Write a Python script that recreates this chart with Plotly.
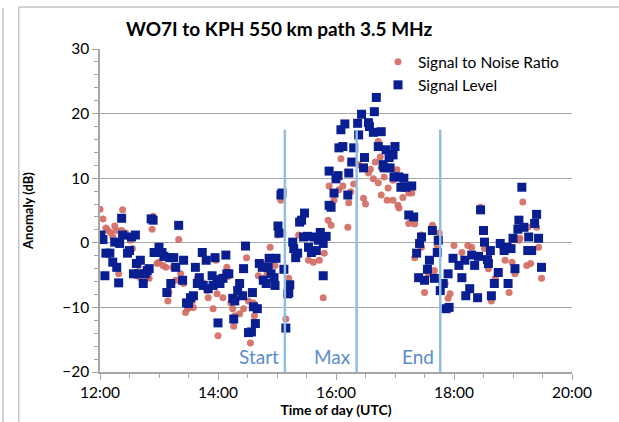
import pandas as pd
import plotly.graph_objects as go

DIA = "2014-01-01 "

# Signal to Noise Ratio (anomalia em dB)
snr_hora = [
    "12:00", "12:03", "12:06", "12:08", "12:11", "12:13", "12:15", "12:17", "12:19", "12:22",
    "12:23", "12:26", "12:29", "12:31", "12:33", "12:34", "12:37", "12:39", "12:41", "12:43",
    "12:48", "12:50", "12:53", "12:54", "12:56", "12:58", "13:00", "13:04", "13:07", "13:09",
    "13:10", "13:14", "13:17", "13:20", "13:22", "13:25", "13:27", "13:29", "13:31", "13:34",
    "13:35", "13:39", "13:41", "13:45", "13:49", "13:50", "13:55", "13:58", "13:59", "14:00",
    "14:05", "14:09", "14:10", "14:13", "14:15", "14:16", "14:17", "14:20", "14:22", "14:26",
    "14:29", "14:31", "14:33", "14:36", "14:37", "14:39", "14:41", "14:45", "14:47", "14:50",
    "14:53", "14:56", "14:58", "15:01", "15:04", "15:06", "15:09", "15:12", "15:22", "15:27",
    "15:32", "15:37", "15:43", "15:48", "15:47", "15:52", "15:55", "15:53", "15:58", "16:03",
    "16:05", "16:07", "16:12", "16:13", "16:15", "16:18", "16:23", "16:28", "16:30", "16:33",
    "16:35", "16:38", "16:40", "16:43", "16:45", "16:43", "16:46", "16:46", "16:49", "16:53",
    "16:58", "17:02", "16:52", "16:58", "17:03", "17:04", "17:08", "17:14", "17:17", "17:14",
    "17:20", "17:27", "17:27", "17:20", "17:38", "17:45", "17:43", "17:40", "17:34", "17:30",
    "17:54", "17:56", "17:51", "18:00", "18:08", "18:14", "18:18", "18:27", "18:31", "18:35",
    "18:38", "18:42", "18:49", "18:52", "18:56", "18:59", "19:02", "19:07", "19:10", "19:14",
    "19:18", "19:24", "19:26", "19:29", "19:15", "19:06",
]
snr_db = [
    5.2, 3.7, 2.3, 1.9, 1.6, 0.9, 2.6, 1.9, -4.8, 1.9,
    5.1, 1.5, 0.9, 0.4, -0.9, -4.8, -5.1, -3.5, -5.4, -6.3,
    -5.4, -5.5, 2.1, 4.1, -1.5, -3.2, -3.0, -3.5, -3.8, -9.0,
    -7.7, -3.8, -5.8, 0.5, -4.8, -6.3, -10.8, -10.2, -10.0, -9.0,
    -10.0, -5.4, -6.3, -6.2, -7.4, -8.5, -10.2, -2.7, -7.9, -14.4,
    -8.5, -3.8, -5.2, -9.3, -10.2, -12.9, -11.3, -8.5, -11.0, -10.2,
    -2.3, -9.0, -15.5, -9.3, -11.3, -12.5, -5.1, -3.2, -5.4, -4.6,
    -0.7, -2.3, -3.5, 1.2, 6.6, 1.5, -11.8, -5.5, 1.2, 0.9,
    -2.7, -3.0, -2.7, -1.6, -8.5, 3.5, 2.7, 8.8, 6.6, 8.2,
    13.0, 8.8, 2.4, 6.2, 7.9, 9.1, 12.1, 6.9, 6.0, 10.8,
    11.4, 9.9, 12.5, 15.7, 13.3, 9.3, 7.4, 11.6, 10.2, 8.5,
    9.7, 11.3, 6.6, 6.6, 5.8, 5.4, 7.0, 7.7, 7.7, 3.0,
    2.9, 1.2, -0.7, -2.3, 2.7, 1.5, -0.4, -4.3, -4.8, -7.7,
    -8.6, -7.9, -6.3, -0.4, -1.5, -0.4, -0.7, 5.5, -0.9, -4.0,
    -9.0, -5.5, -0.7, -2.7, -7.7, -3.0, -4.8, 0.7, 6.3, -3.5,
    -3.2, 2.4, -0.7, -5.5, 2.4, 0.4,
]

# Signal Level (anomalia em dB)
nivel_hora = [
    "12:01", "12:03", "12:05", "12:06", "12:10", "12:13", "12:15", "12:17", "12:19", "12:20",
    "12:22", "12:23", "12:28", "12:30", "12:32", "12:34", "12:36", "12:37", "12:39", "12:41",
    "12:44", "12:46", "12:48", "12:50", "12:52", "12:54", "12:55", "12:58", "13:00", "13:03",
    "13:05", "13:08", "13:11", "13:12", "13:15", "13:17", "13:20", "13:24", "13:25", "13:28",
    "13:30", "13:32", "13:35", "13:37", "13:39", "13:41", "13:44", "13:45", "13:48", "13:50",
    "13:54", "13:55", "13:57", "13:59", "14:00", "14:02", "14:05", "14:08", "14:09", "14:11",
    "14:15", "14:16", "14:17", "14:20", "14:22", "14:25", "14:26", "14:28", "14:31", "14:34",
    "14:35", "14:36", "14:38", "14:40", "14:42", "14:45", "14:46", "14:49", "14:51", "14:52",
    "14:54", "14:57", "14:58", "14:59", "15:01", "15:02", "15:04", "15:05", "15:07", "15:09",
    "15:11", "15:13", "15:12", "15:16", "15:17", "15:19", "15:21", "15:23", "15:25", "15:28",
    "15:27", "15:31", "15:32", "15:35", "15:38", "15:40", "15:42", "15:44", "15:47", "15:50",
    "15:47", "15:53", "15:55", "15:58", "16:00", "16:02", "15:53", "16:03", "16:07", "16:05",
    "16:09", "16:12", "16:13", "16:16", "16:18", "16:22", "16:23", "16:26", "16:29", "16:28",
    "16:33", "16:34", "16:38", "16:39", "16:41", "16:43", "16:46", "16:51", "16:54", "16:58",
    "17:00", "16:49", "16:48", "16:55", "16:59", "17:04", "17:09", "17:06", "17:11", "17:17",
    "17:14", "17:19", "17:25", "17:27", "17:22", "17:24", "17:33", "17:35", "17:38", "17:44",
    "17:43", "17:30", "17:40", "17:49", "17:46", "17:55", "17:52", "17:54", "17:59", "18:05",
    "18:08", "18:11", "18:12", "18:16", "18:18", "18:21", "18:24", "18:25", "18:27", "18:30",
    "18:31", "18:34", "18:35", "18:37", "18:38", "18:41", "18:45", "18:47", "18:51", "18:54",
    "18:55", "18:58", "19:00", "19:02", "19:05", "19:06", "19:09", "19:11", "19:15", "19:16",
    "19:19", "19:22", "19:24", "19:26", "19:29",
]
nivel_db = [
    1.2, 0.5, -5.1, -1.6, -1.6, -3.0, 0.1, -3.8, -6.2, -0.1,
    3.8, 1.2, -1.6, -1.2, 0.9, -4.8, 1.2, -3.2, -4.8, -2.7,
    -6.3, -4.8, -4.3, -4.0, 3.7, 3.5, -1.5, -1.5, -0.7, -1.5,
    -2.1, -7.7, -2.3, -6.3, -2.3, -3.8, 2.7, -5.8, -2.7, -9.3,
    -9.4, -8.5, -8.2, -3.8, -6.3, -5.4, -1.5, -6.6, -2.7, -7.1,
    -5.1, -6.6, -2.3, -5.7, -12.4, -6.3, -5.5, -1.9, -4.8, -4.8,
    -8.6, -11.8, -9.0, -7.4, -6.3, -8.2, -4.0, -0.5, -13.9, -13.8,
    -7.7, -9.9, -12.5, -10.2, -3.2, -3.8, -5.8, -6.3, -3.8, -2.4,
    -4.8, -5.4, -6.6, -2.4, 2.6, 1.5, 7.4, 7.7, -4.1, -13.2,
    -7.9, -6.5, -7.7, 0.1, -0.9, -2.3, -1.6, 3.2, 3.5, 4.6,
    0.9, 1.0, -0.7, -1.5, 0.9, -1.2, 0.4, 1.6, -0.1, 1.0,
    -5.1, 5.8, 5.5, 7.7, 9.9, 10.4, 11.1, 14.7, 14.9, 17.5,
    18.4, 7.4, 10.8, 12.5, 14.7, 18.5, 16.7, 19.9, 13.2, 11.6,
    18.6, 18.0, 17.1, 20.3, 22.5, 14.9, 17.2, 14.4, 13.2, 13.6,
    14.9, 11.6, 12.1, 11.6, 10.2, 10.2, 10.0, 8.6, 8.6, 8.8,
    4.3, 4.0, -0.1, 0.9, -1.6, -5.4, -4.1, -2.7, 1.9, 0.4,
    -1.5, -5.8, -5.5, -6.3, -7.4, -10.0, -10.2, -4.8, -2.4, -3.5,
    -5.4, -2.7, -8.2, -7.1, -1.9, -3.5, -8.5, -2.1, 5.1, 1.9,
    0.1, -2.6, -3.2, -1.2, -8.2, -6.3, -4.6, -0.1, -1.2, -0.7,
    -6.3, -0.9, 0.7, -4.0, 2.1, 3.5, 8.6, 2.4, -1.2, 0.9,
    -1.2, 3.0, 4.4, 0.7, -3.8,
]

# marcos do evento (linhas verticais)
evento_nome = ["Start", "Max", "End"]
evento_hora = ["15:08", "16:21", "17:46"]

AZUL_LINHA = "#93bfdc"
AZUL_TEXTO = "#5b8cc8"
CINZA = "#a6a6a6"
FONTE = "Lato, Carlito, Arial, sans-serif"


def para_data(horas):
    return pd.to_datetime([DIA + h for h in horas])


fig = go.Figure()

fig.add_trace(go.Scatter(
    x=para_data(snr_hora), y=snr_db, mode="markers",
    name="Signal to Noise Ratio",
    marker=dict(symbol="circle", size=7, color="rgba(210,105,95,0.9)", line_width=0),
))
fig.add_trace(go.Scatter(
    x=para_data(nivel_hora), y=nivel_db, mode="markers",
    name="Signal Level",
    marker=dict(symbol="square", size=9, color="rgb(8,30,145)", line_width=0),
))

# linhas verticais + rótulos
for nome, hora in zip(evento_nome, evento_hora):
    t = para_data([hora])[0]
    fig.add_shape(type="line", x0=t, x1=t, y0=-20, y1=17.5, xref="x", yref="y",
                  line=dict(color=AZUL_LINHA, width=2.5))
    fig.add_annotation(x=t, y=-17.6, text=nome, showarrow=False, xanchor="right",
                       xshift=-4, font=dict(size=19, color=AZUL_TEXTO, family=FONTE))

# moldura do gráfico (estilo Excel)
fig.add_shape(type="line", xref="paper", yref="paper", x0=-0.2055, x1=-0.2055, y0=-0.2, y1=1.127,
              line=dict(color=CINZA, width=1))
fig.add_shape(type="rect", xref="paper", yref="paper", x0=-0.172, x1=1.2, y0=-0.2, y1=1.13,
              line=dict(color=CINZA, width=1))

fig.update_layout(
    width=619, height=422,
    margin=dict(l=100, r=47, t=49, b=50),
    paper_bgcolor="white", plot_bgcolor="white",
    font=dict(family=FONTE, size=15.5, color="black"),
    title=dict(text="<b>WO7I to KPH 550 km path 3.5 MHz</b>", x=0.451, xref="container",
               xanchor="center", y=0.931, yanchor="middle", font=dict(size=19)),
    showlegend=True,
    legend=dict(x=0.589, y=1.012, xanchor="left", yanchor="top", bgcolor="rgba(0,0,0,0)",
                font=dict(size=15.5), tracegroupgap=0),
)

fig.update_xaxes(
    type="date", automargin=False,
    range=[DIA + "12:00", DIA + "20:00"],
    dtick=2 * 3600 * 1000, tickformat="%H:%M",
    showgrid=False, zeroline=False,
    showline=True, linecolor=CINZA, linewidth=1.5,
    ticks="outside", ticklen=6, tickcolor=CINZA,
    minor=dict(dtick=1800 * 1000, ticks="outside", ticklen=4, tickcolor=CINZA),
    title=dict(text="<b>Time of day (UTC)</b>", font=dict(size=14), standoff=4),
)
fig.update_yaxes(
    automargin=False,
    range=[-20, 30], dtick=10,
    showgrid=True, gridcolor=CINZA, gridwidth=1.2, zeroline=False,
    showline=True, linecolor=CINZA, linewidth=1.5,
    ticks="outside", ticklen=6, tickcolor=CINZA,
    minor=dict(dtick=2, ticks="outside", ticklen=4, tickcolor=CINZA, showgrid=False),
    title=dict(text="<b>Anomaly (dB)</b>", font=dict(size=13), standoff=26),
)

# a página tem margem de 8px no body; zera para alinhar com a imagem
fig.write_html("out.html", config={"displayModeBar": False},
               post_script="document.body.style.margin='0';")
